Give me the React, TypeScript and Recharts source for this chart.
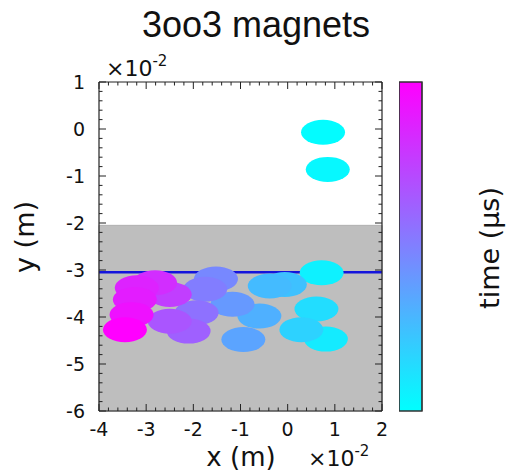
import React from "react";
import {
  ScatterChart, Scatter, XAxis, YAxis, ReferenceArea, ReferenceLine,
  BarChart, Bar,
} from "recharts";

// positions in units of 1e-2 m, time in µs
const posX = [0.75, 0.85, 0.72, 0.81, 0.61, 0.29, -0.06, -0.38, -0.6, -0.94, -1.17, -1.52, -1.75, -1.93, -2.1, -2.5, -2.5, -2.81, -3.2, -3.24, -3.31, -3.45];
const posY = [-0.07, -0.86, -3.06, -4.47, -3.83, -4.27, -3.31, -3.34, -3.98, -4.48, -3.73, -3.19, -3.41, -3.91, -4.3, -4.09, -3.52, -3.27, -3.38, -3.63, -3.95, -4.27];
const times = [0.3, 0.6, 1.2, 1.8, 3, 4, 5.5, 6, 7, 8, 9, 10.5, 11.5, 12.5, 14, 15, 17, 18.5, 19.5, 20, 21, 22.5];

const xMajor = [-4, -3, -2, -1, 0, 1, 2];
const yMajor = [-6, -5, -4, -3, -2, -1, 0, 1];
const cbTicks = [0, 2.5, 5, 7.5, 10, 12.5, 15, 17.5, 20, 22.5];
const cbLabels = ["0", "2", "5", "7", "10", "12", "15", "17", "20", "23"];
const tMax = 22.5;
const shadeTop = -2.05;
const lineY = -3.05;

const points = posX.map((x, i) => ({ x, y: posY[i], t: times[i] }));
const cbData = [{ c: "time", v: tMax }];

// 5 subdivisions between major ticks
const withMinor = (majors: number[]) => {
  const out: number[] = [];
  majors.forEach((m, i) => {
    out.push(m);
    if (i < majors.length - 1) for (let k = 1; k < 5; k++) out.push(+(m + k * 0.2).toFixed(2));
  });
  return out;
};
const xTicks = withMinor(xMajor);
const yTicks = withMinor(yMajor);

const cool = (t: number) => {
  const f = Math.max(0, Math.min(1, t / tMax));
  return `rgb(${Math.round(255 * f)},${Math.round(255 * (1 - f))},255)`;
};

const FONT = "'DejaVu Sans', sans-serif";
const INK = "#222";
const W = 513, H = 474;
const MARGIN = { top: 81, right: 130, bottom: 33, left: 0 };

const makeTick = (side: string, majors: number[], label: boolean) => (p: any) => {
  const { x, y, payload } = p;
  const v = payload.value;
  const major = majors.some(m => Math.abs(m - v) < 1e-6);
  const len = major ? 7 : 3.5;
  let line;
  if (side === "bottom") line = <line x1={x} y1={y} x2={x} y2={y - len} stroke={INK} />;
  else if (side === "top") line = <line x1={x} y1={y} x2={x} y2={y + len} stroke={INK} />;
  else if (side === "left") line = <line x1={x} y1={y} x2={x + len} y2={y} stroke={INK} />;
  else line = <line x1={x} y1={y} x2={x - len} y2={y} stroke={INK} />;
  return (
    <g>
      {line}
      {label && major && side === "bottom" && (
        <text x={x} y={y + 25} textAnchor="middle" fontSize={19} fontFamily={FONT} fill="#111">{v}</text>
      )}
      {label && major && side === "left" && (
        <text x={x - 14} y={y + 7} textAnchor="end" fontSize={19} fontFamily={FONT} fill="#111">{v}</text>
      )}
    </g>
  );
};

const Blob = (p: any) => (
  <ellipse cx={p.cx} cy={p.cy} rx={22} ry={12.5} fill={cool(p.payload.t)} />
);
const Nothing = () => <g />;

const CbTick = (p: any) => {
  const { x, y, index } = p;
  return (
    <g>
      <line x1={x} y1={y} x2={x - 8} y2={y} stroke={INK} />
      <text x={x + 13} y={y + 7} fontSize={19} fontFamily={FONT} fill="#111">{cbLabels[index]}</text>
    </g>
  );
};

// same axis layout for the data layer and the frame layer
const axes = (draw: boolean) => [
  <XAxis key="b" dataKey="x" type="number" domain={[-4, 2]} ticks={xTicks} interval={0} allowDataOverflow
    height={30} tickSize={0} tickMargin={0} tickLine={false}
    axisLine={draw ? { stroke: INK, strokeWidth: 1.2 } : false}
    tick={draw ? makeTick("bottom", xMajor, true) : false} />,
  <XAxis key="t" xAxisId="top" orientation="top" dataKey="x" type="number" domain={[-4, 2]} ticks={xTicks} interval={0} allowDataOverflow
    height={1} tickSize={0} tickMargin={0} tickLine={false}
    axisLine={draw ? { stroke: INK, strokeWidth: 1.2 } : false}
    tick={draw ? makeTick("top", xMajor, false) : false} />,
  <YAxis key="l" dataKey="y" type="number" domain={[-6, 1]} ticks={yTicks} interval={0} allowDataOverflow
    width={99} tickSize={0} tickMargin={0} tickLine={false}
    axisLine={draw ? { stroke: INK, strokeWidth: 1.2 } : false}
    tick={draw ? makeTick("left", yMajor, true) : false} />,
  <YAxis key="r" yAxisId="right" orientation="right" dataKey="y" type="number" domain={[-6, 1]} ticks={yTicks} interval={0} allowDataOverflow
    width={1} tickSize={0} tickMargin={0} tickLine={false}
    axisLine={draw ? { stroke: INK, strokeWidth: 1.2 } : false}
    tick={draw ? makeTick("right", yMajor, false) : false} />,
];

const colorbar = (ticks: boolean) => (
  <BarChart width={114} height={352} data={cbData} margin={{ top: 12, right: 91, bottom: 11, left: 0 }} barCategoryGap={0}>
    <defs>
      <linearGradient id="coolmap" x1="0" y1="1" x2="0" y2="0">
        <stop offset="0%" stopColor="#00ffff" />
        <stop offset="50%" stopColor="#8080ff" />
        <stop offset="100%" stopColor="#ff00ff" />
      </linearGradient>
    </defs>
    <XAxis dataKey="c" hide />
    <YAxis orientation="right" type="number" domain={[0, tMax]} ticks={cbTicks} interval={0} width={0}
      tickSize={0} tickMargin={0} tickLine={false} axisLine={false} tick={ticks ? CbTick : false} />
    <Bar dataKey="v" fill={ticks ? "none" : "url(#coolmap)"} stroke="#333" strokeWidth={1.2} isAnimationActive={false} />
  </BarChart>
);

export default function App() {
  return (
    <div style={{ position: "absolute", left: 0, top: 0, width: W, height: H, background: "white" }}>
      <div style={{ position: "absolute", left: 0, top: 0 }}>
        <ScatterChart width={W} height={H} margin={MARGIN}>
          {axes(false)}
          <ReferenceArea x1={-4} x2={2} y1={-6} y2={shadeTop} fill="#bebebe" fillOpacity={1} stroke="#b0b0b0" />
          <Scatter data={points} shape={Blob} isAnimationActive={false} />
          <ReferenceLine y={lineY} stroke="#1414dc" strokeWidth={2.5} />
        </ScatterChart>
      </div>
      <div style={{ position: "absolute", left: 0, top: 0 }}>
        <ScatterChart width={W} height={H} margin={MARGIN}>
          {axes(true)}
          <Scatter data={points} shape={Nothing} isAnimationActive={false} />
          <Scatter data={points} xAxisId="top" yAxisId="right" shape={Nothing} isAnimationActive={false} />
        </ScatterChart>
      </div>
      <div style={{ position: "absolute", left: 399, top: 70 }}>{colorbar(false)}</div>
      <div style={{ position: "absolute", left: 399, top: 70 }}>{colorbar(true)}</div>
      <svg width={W} height={H} style={{ position: "absolute", left: 0, top: 0, pointerEvents: "none" }}>
        <text x={256} y={37} textAnchor="middle" fontSize={36} fontFamily="'Liberation Sans', Arial, sans-serif" fill="#111">3oo3 magnets</text>
        <text x={106} y={76} fontSize={22} fontFamily={FONT} fill="#111">×10<tspan fontSize={15} dy={-10}>-2</tspan></text>
        <text x={308} y={466} fontSize={22} fontFamily={FONT} fill="#111">×10<tspan fontSize={15} dy={-10}>-2</tspan></text>
        <text x={241} y={466} textAnchor="middle" fontSize={26} fontFamily={FONT} fill="#111">x (m)</text>
        <text transform="translate(34,237) rotate(-90)" textAnchor="middle" fontSize={27} fontFamily={FONT} fill="#111">y (m)</text>
        <text transform="translate(499,248) rotate(-90)" textAnchor="middle" fontSize={27} fontFamily={FONT} fill="#111">time (µs)</text>
      </svg>
    </div>
  );
}
